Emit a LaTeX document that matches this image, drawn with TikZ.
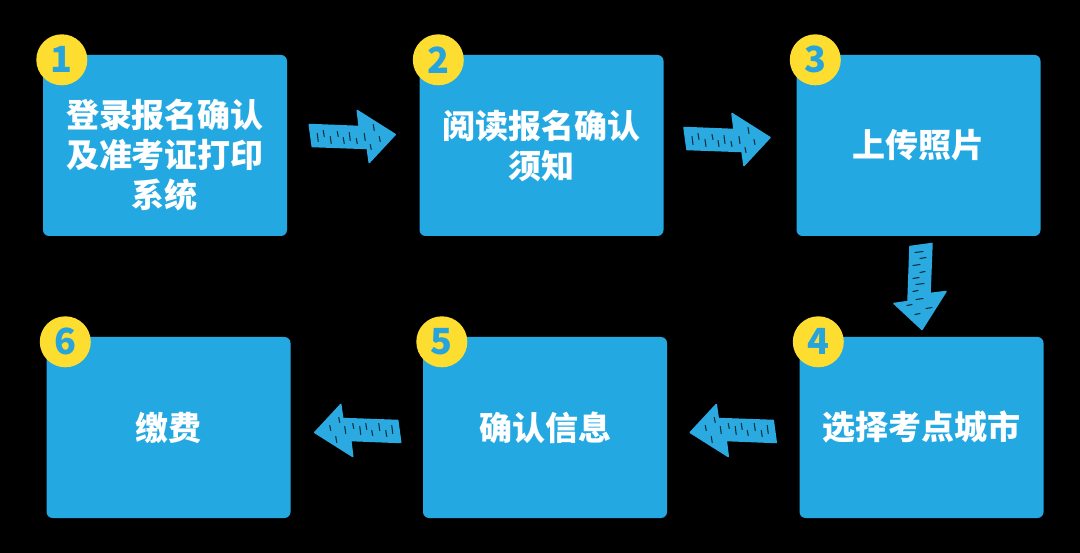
\documentclass[tikz,border=0pt]{standalone}
\usepackage{fontspec}
\newfontfamily\cjk{Noto Sans CJK SC}
\usetikzlibrary{calc}
\definecolor{boxblue}{RGB}{35,168,226}
\definecolor{arrblue}{RGB}{42,170,224}
\definecolor{numyellow}{RGB}{253,222,48}
\definecolor{numblue}{RGB}{40,164,220}

\tikzset{
  sketchy/.pic={
    \fill[arrblue, draw=arrblue, line width=1.5pt, line join=round]
      (-43,-12) -- (7,-10) -- (5,-26) -- (43,-2) -- (17,26) -- (15,12) -- (-40,10) -- cycle;
    \foreach \u/\v/\l in {-35/-3/8, -29/-6/6, -22/0/7, -15/-5/5, -9/1/6, -3/-4/8, 4/2/5,
                          21/-12/6, 27/0/5, 12/-3/7, 18/8/5}
      \draw[black, opacity=0.7, line width=1.1pt, line cap=round] (\u,\v) -- ++(1,\l);
  }
}

\begin{document}
\begin{tikzpicture}[x=1pt, y=-1pt,
    stepbox/.style={rectangle, rounded corners=6pt, fill=boxblue, minimum width=244pt,
                    minimum height=181pt, inner sep=0pt, text=white, align=center,
                    font=\cjk\bfseries\fontsize{33}{40}\selectfont},
    num/.style={circle, fill=numyellow, minimum size=51pt, inner sep=0pt, text=numblue,
                font=\cjk\bfseries\fontsize{36}{36}\selectfont},
  ]
  \fill[black] (0,0) rectangle (1080,553);
  \useasboundingbox (0,0) rectangle (1080,553);
  % top row
  \node[stepbox] (b1) at (165,145.5) {\rule{0pt}{47pt}登录报名确认\\及准考证打印\\系统};
  \node[stepbox] (b2) at (541.5,145.5) {阅读报名确认\\须知};
  \node[stepbox] (b3) at (918.5,145.5) {上传照片};
  % bottom row
  \node[stepbox] (b4) at (921.5,427.5) {选择考点城市};
  \node[stepbox] (b5) at (545,427.5) {确认信息};
  \node[stepbox] (b6) at (168.5,427.5) {缴费};
  % numbers
  \foreach \i in {1,...,6}
    \node[num] (n\i) at ($(b\i.north west)+(19,5)$) {\i};
  % arrows between the steps
  \pic at ($(b1.east)!0.5!(b2.west)+(-1,-9)$) {sketchy};
  \pic at ($(b2.east)!0.5!(b3.west)+(-3,-6)$) {sketchy};
  \pic[rotate=-90] at ($(b3.south)!0.5!(b4.north)$) {sketchy};
  \pic[rotate=180] at ($(b4.west)!0.5!(b5.east)+(0,3)$) {sketchy};
  \pic[rotate=180] at ($(b5.west)!0.5!(b6.east)+(1,3)$) {sketchy};
\end{tikzpicture}
\end{document}
